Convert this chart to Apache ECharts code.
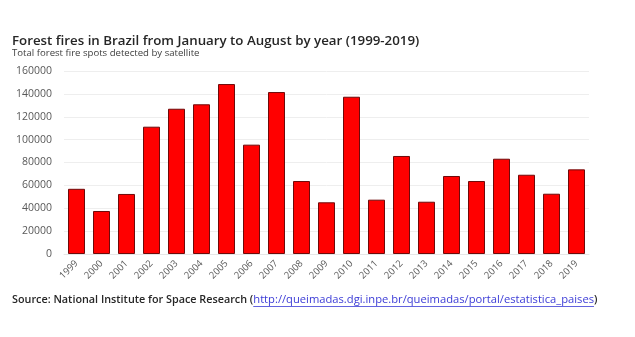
<!DOCTYPE html>
<html>
<head>
<meta charset="utf-8">
<script src="https://cdn.jsdelivr.net/npm/echarts@6/dist/echarts.min.js"></script>
<style>
  html, body { margin: 0; padding: 0; background: #ffffff; }
  #chart { width: 635px; height: 337px; }
</style>
</head>
<body>
<div id="chart"></div>
<script>
// Fire spots detected by satellite, January–August of each year
const years = ['1999','2000','2001','2002','2003','2004','2005','2006','2007','2008','2009',
               '2010','2011','2012','2013','2014','2015','2016','2017','2018','2019'];
const fireSpots = [57000, 37600, 52500, 111300, 127000, 130900, 148600, 95600, 141600, 63800, 45200,
                   137500, 47500, 85700, 45700, 68200, 63800, 83300, 69300, 52700, 74000];
const yTicks = [0, 20000, 40000, 60000, 80000, 100000, 120000, 140000, 160000];

const titleText = 'Forest fires in Brazil from January to August by year (1999-2019)';
const subtitleText = 'Total forest fire spots detected by satellite';
const sourceLead = 'Source: National Institute for Space Research (';
const sourceLink = 'http://queimadas.dgi.inpe.br/queimadas/portal/estatistica_paises';
const sourceTail = ')';

const FONT = '"Open Sans", "Noto Sans", sans-serif';
const LEAD_FONT = '600 10.8px ' + FONT;
const LINK_FONT = '11.2px ' + FONT;
const LINK_COLOR = '#3b3bd6';

// width of a string in a given font, used to place the link underline
const measureCtx = document.createElement('canvas').getContext('2d');
function textWidth(str, font) { measureCtx.font = font; return measureCtx.measureText(str).width; }

const srcX = 12, srcY = 294;
const linkX1 = srcX + textWidth(sourceLead, LEAD_FONT);
const linkX2 = linkX1 + textWidth(sourceLink, LINK_FONT);

const chart = echarts.init(document.getElementById('chart'), null, { renderer: 'canvas' });

chart.setOption({
  backgroundColor: '#ffffff',
  animation: false,
  grid: { left: 64, right: 46, top: 71, bottom: 83, containLabel: false },
  xAxis: {
    type: 'category',
    data: years,
    axisLine: { show: true, lineStyle: { color: '#e6e6e6' } },
    axisTick: { show: false },
    axisLabel: {
      interval: 0, rotate: 45, color: '#595959', fontSize: 9.5, fontFamily: FONT, margin: 8
    }
  },
  yAxis: {
    type: 'value',
    min: yTicks[0],
    max: yTicks[yTicks.length - 1],
    interval: yTicks[1] - yTicks[0],
    axisLine: { show: false },
    axisTick: { show: false },
    axisLabel: {
      color: '#595959', fontSize: 10.5, fontFamily: FONT, margin: 12,
      formatter: v => String(v)
    },
    splitLine: { lineStyle: { color: '#eeeeee', width: 1 } }
  },
  series: [{
    type: 'bar',
    data: fireSpots,
    barCategoryGap: '32%',
    itemStyle: { color: '#ff0000', borderColor: '#6e0a0a', borderWidth: 1 }
  }],
  graphic: [
    { type: 'text', left: 12, top: 35,
      style: { text: titleText, fill: '#262626', font: '600 13.3px ' + FONT } },
    { type: 'text', left: 12, top: 48.5,
      style: { text: subtitleText, fill: '#404040', font: '9.6px ' + FONT } },
    { type: 'text', left: srcX, top: srcY,
      style: {
        text: '{a|' + sourceLead + '}{b|' + sourceLink + '}{a|' + sourceTail + '}',
        rich: {
          a: { fill: '#262626', font: LEAD_FONT },
          b: { fill: LINK_COLOR, font: LINK_FONT }
        }
      } },
    { type: 'line', shape: { x1: linkX1, y1: srcY + 12.5, x2: linkX2, y2: srcY + 12.5 },
      style: { stroke: LINK_COLOR, lineWidth: 0.8 } }
  ]
});
</script>
</body>
</html>
